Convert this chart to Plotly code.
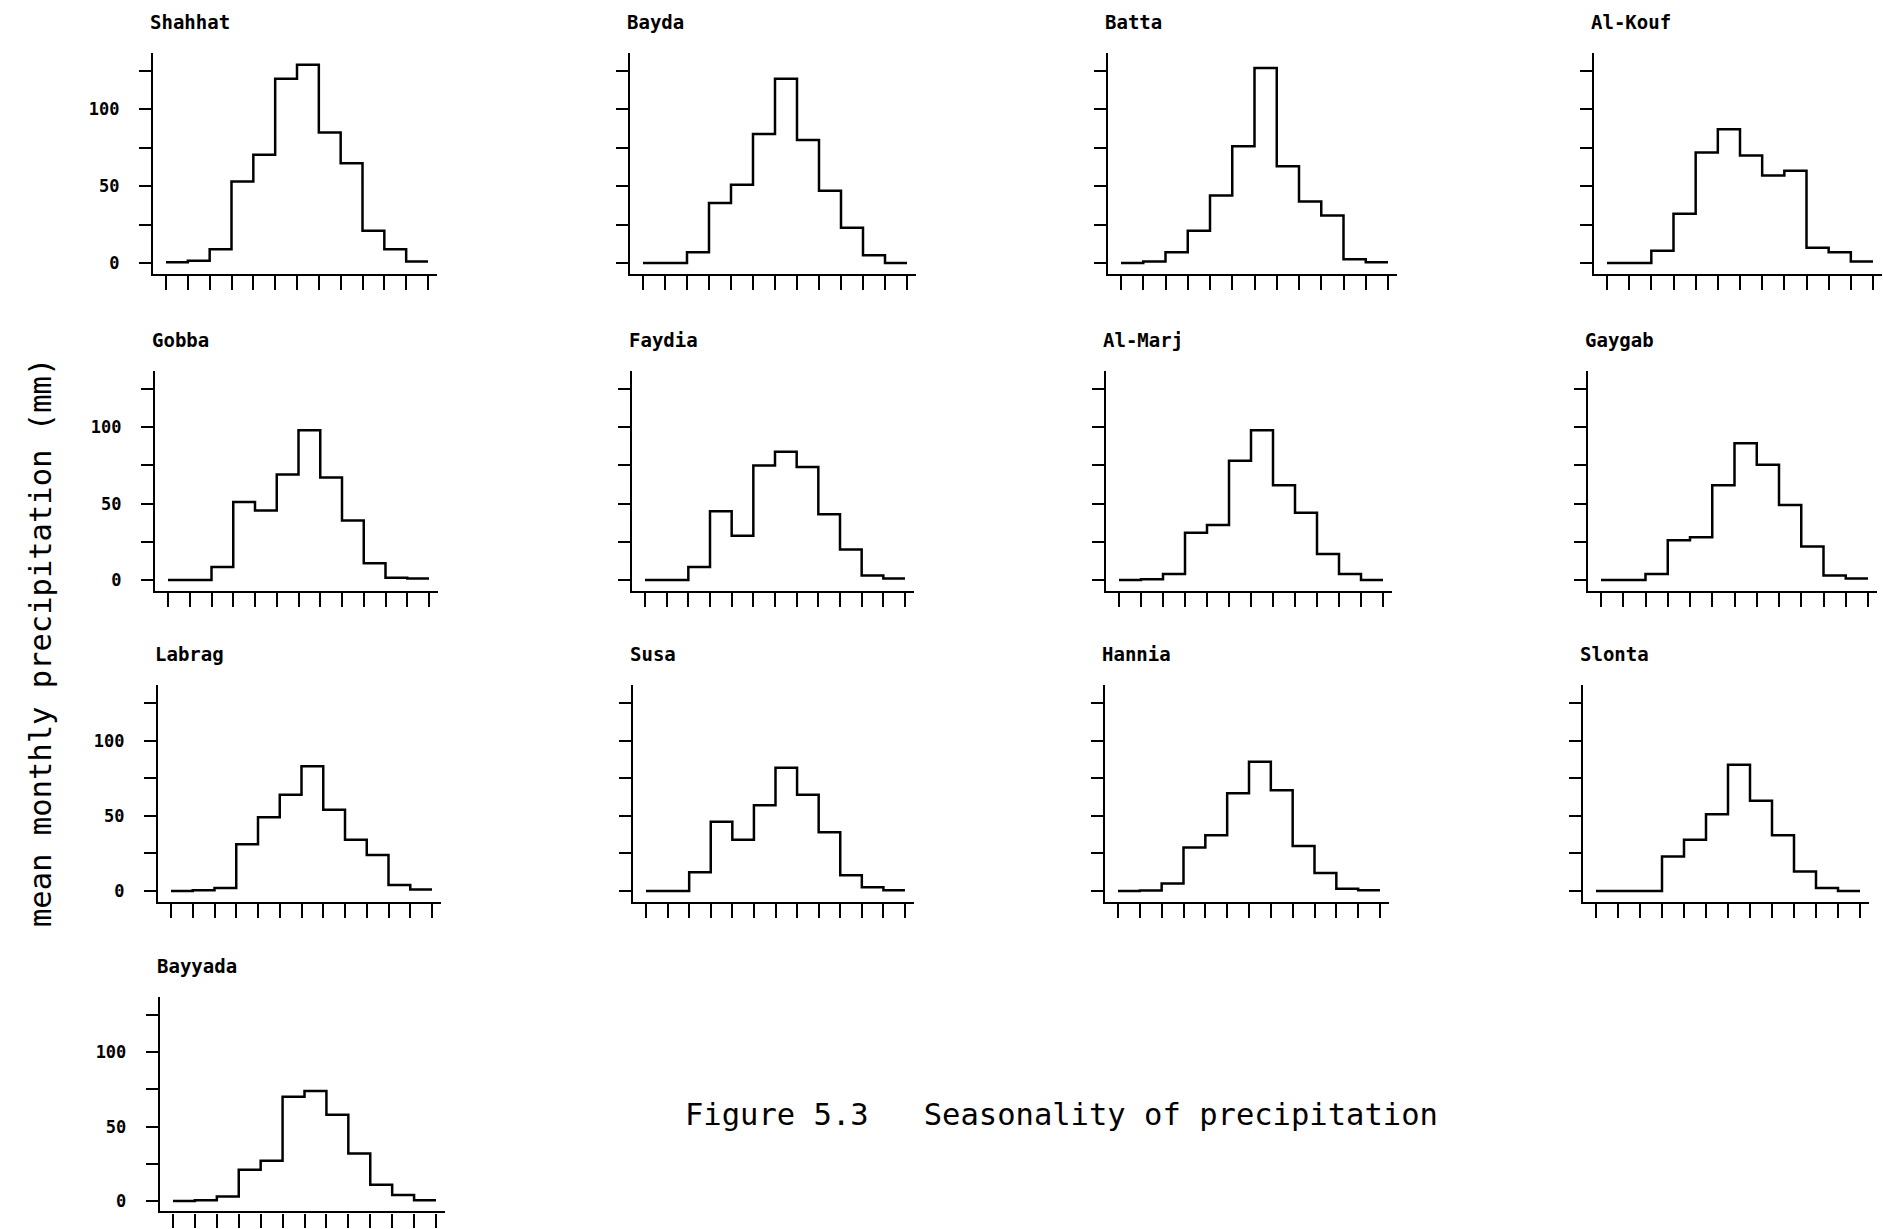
import plotly.graph_objects as go

W, H = 1883, 1229

# ---- data (mean monthly precipitation, mm; 12 monthly bins) ----
stations = ["Shahhat", "Bayda", "Batta", "Al-Kouf",
            "Gobba", "Faydia", "Al-Marj", "Gaygab",
            "Labrag", "Susa", "Hannia", "Slonta",
            "Bayyada"]

shahhat = [0.5, 1.5, 9, 53, 70.5, 120, 129, 85, 65, 21, 9, 1]
bayda = [0, 0, 7, 39, 51, 84, 120, 80, 47, 23, 5, 0]
batta = [0, 1, 7, 21, 44, 76, 127, 63, 40, 31, 2.5, 0.5]
al_kouf = [0, 0, 8, 32, 72, 87, 70, 57, 60, 10, 7, 1]
gobba = [0, 0, 8.5, 51, 45.5, 69, 98, 67, 39, 11, 1.5, 1]
faydia = [0, 0, 8.5, 45, 29, 75, 84, 74, 43, 20, 3, 1]
al_marj = [0, 0.5, 4, 31, 36, 78, 98, 62, 44, 17, 4, 0]
gaygab = [0, 0, 4, 26, 28, 62, 89.5, 75.5, 49, 22, 3, 1]
labrag = [0, 0.5, 2, 31, 49, 64, 83, 54, 34, 24, 4, 1]
susa = [0, 0, 12.5, 46, 34, 57, 82, 64, 39, 10.5, 2.5, 0.5]
hannia = [0, 0.3, 5, 29, 37, 65, 86, 67, 30, 12, 1.5, 0.5]
slonta = [0, 0, 0, 23, 34, 51, 84, 60, 37, 13, 2, 0]
bayyada = [0, 0.5, 3, 21, 27, 70, 74, 58, 32, 11, 4, 0.5]

series = [shahhat, bayda, batta, al_kouf,
          gobba, faydia, al_marj, gaygab,
          labrag, susa, hannia, slonta,
          bayyada]

month_edges = list(range(13))
y_tickvals = [0, 25, 50, 75, 100, 125]
y_ticktext = ["0", "", "50", "", "100", ""]

# ---- layout geometry (pixels in the 1883x1229 page) ----
row_zero_px = [263, 580, 891, 1201]
row_125_px = [71, 389, 703, 1015]
tick_px = [
    [(166, 428), (643, 907), (1121, 1388), (1607, 1873)],
    [(168, 429), (645, 905), (1119, 1383), (1601, 1868)],
    [(171, 432), (646, 905), (1118, 1380), (1596, 1860)],
    [(173, 436)],
]
XR = [-0.6, 12.4]
YR = [-7, 137]

fig = go.Figure()
annotations = []
layout = {}

idx = 0
for r, row in enumerate(tick_px):
    for c, (t0, t1) in enumerate(row):
        n = idx + 1
        step = (t1 - t0) / 12.0
        left = t0 + XR[0] * step
        right = t0 + XR[1] * step
        ppu = (row_zero_px[r] - row_125_px[r]) / 125.0
        top = row_zero_px[r] - YR[1] * ppu
        bottom = row_zero_px[r] - YR[0] * ppu
        vals = series[idx]
        fig.add_trace(go.Scatter(
            x=month_edges, y=vals + [vals[-1]], mode="lines",
            line=dict(shape="hv", color="black", width=2.5),
            xaxis=f"x{n}", yaxis=f"y{n}", showlegend=False,
            hoverinfo="skip"))
        sfx = "" if n == 1 else str(n)
        layout[f"xaxis{sfx}"] = dict(
            domain=[left / W, right / W], range=XR, anchor=f"y{n}",
            tickvals=month_edges, ticks="outside", ticklen=14, tickwidth=2,
            tickcolor="black", showticklabels=False, showline=True,
            linecolor="black", linewidth=2.2, showgrid=False, zeroline=False,
            fixedrange=True)
        layout[f"yaxis{sfx}"] = dict(
            domain=[1 - bottom / H, 1 - top / H], range=YR, anchor=f"x{n}",
            tickvals=y_tickvals, ticktext=y_ticktext, ticks="outside",
            ticklen=12, tickwidth=2, tickcolor="black",
            showticklabels=(c == 0), ticklabelstandoff=16,
            tickfont=dict(family="DejaVu Sans Mono", size=17, color="black",
                          weight="bold"),
            showline=True, linecolor="black", linewidth=2.2, showgrid=False,
            zeroline=False, fixedrange=True)
        annotations.append(dict(
            text=stations[idx], xref="paper", yref="paper",
            x=(left - 5) / W, y=1 - (top - 31) / H, xanchor="left",
            yanchor="middle", showarrow=False,
            font=dict(family="DejaVu Sans Mono", size=19, color="black",
                      weight="bold")))
        idx += 1

annotations.append(dict(
    text="mean monthly precipitation (mm)", xref="paper", yref="paper",
    x=40 / W, y=1 - 643 / H, textangle=-90, showarrow=False,
    xanchor="center", yanchor="middle",
    font=dict(family="DejaVu Sans Mono", size=30.5, color="black")))
annotations.append(dict(
    text="Figure 5.3   Seasonality of precipitation", xref="paper",
    yref="paper", x=683 / W, y=1 - 1114 / H, xanchor="left",
    yanchor="middle", showarrow=False,
    font=dict(family="DejaVu Sans Mono", size=30.5, color="black")))

fig.update_layout(
    width=W, height=H, margin=dict(l=0, r=0, t=0, b=0),
    paper_bgcolor="white", plot_bgcolor="white", showlegend=False,
    annotations=annotations, **layout)

fig.write_html("out.html")
